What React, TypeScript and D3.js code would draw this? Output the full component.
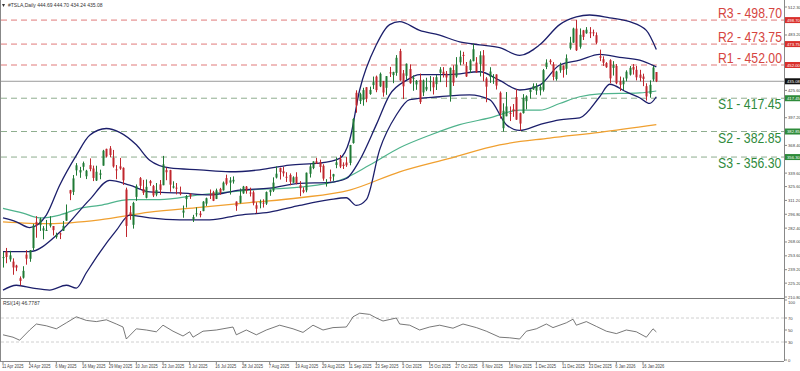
import React from "react";
import * as d3 from "d3";

// trading calendar (US market holidays removed)
const HOLIDAYS = ["2025-04-18", "2025-05-26", "2025-06-19", "2025-07-04", "2025-09-01", "2025-11-27", "2025-12-25", "2026-01-01", "2026-01-19"];

// open, high, low, close
const candles: [number, number, number, number][] = [
  [251.8, 257.7, 241.4, 252.3], [258.4, 261.8, 245.9, 252.4], [249.9, 258.8, 247.5, 254.1], [247.6, 251.0, 233.9, 241.5],
  [243.5, 244.3, 237.7, 241.4], [230.3, 232.2, 222.8, 227.5], [230.9, 242.8, 229.9, 238.0], [254.9, 259.5, 244.4, 250.7],
  [250.5, 259.5, 247.4, 259.5], [261.7, 286.9, 259.6, 285.0], [288.9, 294.9, 272.4, 285.9], [285.5, 293.3, 279.5, 292.0],
  [279.9, 284.5, 270.8, 282.2], [280.0, 290.9, 279.8, 280.5], [284.9, 294.8, 283.1, 287.2], [284.6, 284.6, 274.8, 280.3],
  [273.1, 277.7, 271.4, 275.4], [276.9, 277.9, 271.0, 276.2], [279.6, 289.8, 279.4, 284.8], [290.2, 307.0, 290.0, 298.3],
  [321.9, 322.2, 311.5, 318.4], [320.0, 337.6, 316.8, 334.1], [342.5, 350.0, 337.0, 347.7], [340.3, 346.1, 334.7, 342.8],
  [346.2, 351.6, 342.3, 350.0], [336.3, 343.0, 333.4, 342.1], [347.9, 354.9, 341.5, 343.8], [344.4, 347.4, 331.3, 334.6],
  [331.9, 347.3, 331.4, 341.0], [337.9, 343.2, 333.2, 339.3], [347.4, 363.8, 347.3, 362.9], [364.8, 365.0, 355.9, 356.9],
  [365.3, 367.7, 356.0, 358.4], [355.5, 363.7, 345.3, 346.5], [343.5, 348.0, 333.3, 342.7], [346.6, 355.4, 343.0, 344.3],
  [345.1, 345.6, 327.3, 332.1], [322.5, 324.5, 273.2, 284.7], [298.8, 305.5, 291.1, 295.1], [285.9, 309.8, 281.9, 308.6],
  [314.9, 327.8, 310.7, 326.1], [334.4, 335.5, 322.5, 326.4], [323.1, 332.6, 316.9, 319.1], [314.0, 333.0, 313.3, 325.3],
  [331.3, 332.5, 326.4, 329.1], [326.1, 327.3, 314.7, 316.4], [317.3, 329.3, 315.5, 322.1], [327.9, 332.4, 317.1, 322.2],
  [327.0, 357.5, 327.0, 348.7], [342.7, 345.4, 332.2, 340.5], [342.7, 343.0, 320.2, 327.6], [324.6, 331.1, 323.6, 325.8],
  [324.5, 329.3, 317.5, 323.6], [319.9, 325.6, 316.6, 317.7], [298.5, 305.9, 293.2, 300.7], [312.6, 316.8, 303.8, 315.7],
  [318.0, 318.5, 312.8, 315.4], [291.4, 296.2, 288.8, 293.9], [297.0, 304.0, 294.4, 297.8], [297.6, 300.2, 293.6, 295.9],
  [300.1, 310.5, 300.0, 309.9], [307.9, 314.1, 305.5, 313.5], [317.7, 322.6, 312.7, 316.9], [319.7, 321.2, 310.5, 310.8],
  [312.8, 323.5, 312.6, 321.7], [323.2, 324.3, 317.1, 319.4], [321.7, 330.9, 321.4, 329.7], [334.4, 338.0, 326.9, 328.5],
  [329.7, 335.4, 317.3, 332.1], [330.9, 336.2, 328.7, 332.6], [310.0, 310.2, 300.4, 305.3], [308.7, 323.6, 308.0, 316.1],
  [318.5, 326.3, 318.1, 325.6], [325.6, 326.2, 318.2, 321.2], [319.4, 324.5, 315.3, 319.0], [319.6, 321.4, 306.1, 308.3],
  [306.2, 309.3, 297.8, 302.6], [309.1, 312.1, 303.0, 309.3], [308.9, 312.4, 303.8, 308.7], [307.9, 320.5, 306.5, 319.9],
  [319.8, 322.5, 316.0, 322.3], [321.4, 335.2, 320.0, 329.7], [335.0, 346.6, 334.0, 339.0], [345.0, 345.3, 332.9, 340.8],
  [341.5, 346.1, 336.0, 339.4], [335.8, 340.5, 330.4, 335.6], [337.7, 339.3, 327.0, 330.6], [329.6, 336.3, 329.6, 335.2],
  [335.8, 340.5, 327.9, 329.3], [327.0, 331.3, 315.6, 323.9], [322.1, 324.9, 318.7, 320.1], [321.7, 340.2, 319.7, 340.0],
  [338.9, 349.5, 335.0, 346.6], [344.9, 351.9, 343.7, 351.7], [351.9, 355.4, 349.2, 349.6], [350.9, 353.6, 340.3, 346.0],
  [347.2, 348.8, 331.7, 333.9], [328.2, 333.3, 325.6, 329.4], [335.2, 343.3, 330.9, 334.1], [336.1, 338.9, 331.5, 338.5],
  [348.0, 355.9, 344.7, 350.8], [354.6, 358.4, 344.8, 346.4], [348.4, 350.8, 343.9, 347.0], [350.6, 356.3, 346.1, 347.8],
  [350.2, 369.0, 347.7, 368.8], [370.9, 396.7, 370.2, 395.9], [423.1, 425.7, 402.4, 410.0], [414.5, 423.2, 411.4, 421.6],
  [415.8, 428.3, 409.7, 425.9], [428.9, 428.9, 413.3, 416.9], [421.8, 429.5, 421.0, 426.1], [431.1, 440.0, 427.0, 434.2],
  [439.9, 441.0, 423.7, 425.9], [429.8, 444.2, 429.0, 442.8], [435.2, 435.4, 419.1, 423.4], [428.3, 440.5, 421.0, 440.4],
  [444.4, 450.0, 439.5, 443.2], [441.5, 445.0, 433.1, 444.7], [443.8, 462.3, 440.8, 459.5], [466.5, 468.8, 435.6, 436.0],
  [443.3, 446.8, 416.6, 429.8], [440.8, 453.6, 436.7, 453.3], [447.8, 452.7, 432.5, 433.1], [437.6, 441.3, 425.2, 438.7],
  [431.8, 436.4, 426.2, 435.5], [436.5, 443.1, 411.5, 413.5], [423.5, 436.9, 419.7, 435.9], [426.5, 438.7, 424.8, 429.2],
  [434.7, 440.5, 424.7, 435.2], [434.7, 439.4, 421.3, 428.8], [432.1, 441.6, 426.0, 439.3], [443.9, 449.8, 434.2, 447.4],
  [445.0, 449.8, 439.0, 442.6], [443.0, 445.7, 429.0, 439.0], [420.0, 449.4, 413.9, 449.0], [446.8, 451.7, 430.2, 433.7],
  [440.0, 460.2, 438.7, 452.4], [454.8, 467.0, 451.6, 460.6], [462.5, 465.7, 452.7, 461.5], [451.1, 455.1, 439.6, 440.1],
  [446.8, 458.0, 443.7, 456.6], [456.0, 474.1, 455.8, 468.4], [454.5, 460.2, 443.9, 444.3], [452.9, 466.3, 440.1, 462.1],
  [462.0, 467.5, 435.1, 445.9], [437.9, 439.4, 413.3, 429.5], [439.6, 449.7, 433.4, 445.2], [439.4, 442.5, 432.4, 439.6],
  [442.2, 442.3, 426.5, 430.6], [423.1, 424.5, 396.3, 402.0], [386.3, 412.2, 382.8, 404.4], [398.7, 423.9, 398.7, 408.9],
  [402.2, 408.9, 393.7, 401.3], [406.0, 411.4, 398.1, 404.0], [418.6, 426.9, 394.9, 395.2], [402.0, 402.6, 383.8, 391.1],
  [402.0, 421.7, 401.5, 417.8], [414.4, 420.5, 405.9, 419.4], [423.9, 426.9, 416.9, 426.6], [426.6, 432.9, 426.2, 430.2],
  [425.3, 433.0, 421.0, 430.1], [425.7, 431.9, 420.4, 429.2], [426.2, 447.9, 424.4, 446.7], [449.9, 457.9, 447.7, 454.5],
  [456.6, 458.1, 452.6, 455.0], [452.6, 455.0, 436.0, 439.6], [437.4, 446.0, 435.7, 445.2], [446.4, 454.4, 443.9, 451.5],
  [451.0, 451.6, 438.9, 446.9], [448.1, 463.0, 441.8, 459.0], [469.4, 481.3, 467.9, 475.3], [475.3, 490.8, 475.0, 489.9],
  [489.8, 498.8, 466.6, 467.3], [471.0, 490.0, 469.0, 483.4], [488.0, 488.5, 478.0, 481.2], [485.0, 491.4, 484.5, 488.7],
  [486.0, 491.4, 480.0, 485.6], [486.0, 488.8, 482.0, 485.4], [483.0, 485.9, 473.7, 475.2], [461.0, 468.0, 456.0, 459.6],
  [458.0, 461.0, 451.0, 454.4], [454.0, 455.0, 449.0, 449.7], [457.0, 458.0, 433.0, 438.1], [449.0, 456.0, 441.0, 451.7],
  [451.0, 453.0, 432.0, 433.0], [435.0, 440.0, 425.0, 431.4], [432.0, 439.0, 426.0, 435.8], [438.0, 446.5, 435.0, 445.0],
  [442.0, 451.0, 441.0, 449.0], [450.0, 453.0, 442.0, 447.2], [447.0, 451.0, 436.0, 439.2], [442.0, 447.0, 435.0, 438.6],
  [440.0, 443.0, 430.0, 437.5], [430.0, 433.0, 415.0, 419.3], [422.0, 436.0, 418.0, 431.4], [437.0, 451.0, 435.0, 449.4],
  [444.69, 444.7, 434.24, 435.08],
];

// indicator readings: [bar index, value]
const bbUpper: [number, number][] = [
  [0, 293], [4, 289], [8, 283], [13, 296], [17, 327], [22, 358], [26, 379], [31, 386], [35, 382], [40, 369], [44, 353],
  [50, 345], [59, 343], [68, 341], [77, 343], [86, 348], [95, 350], [101, 355], [104, 374], [107, 426], [112, 473],
  [116, 494], [119, 497], [125, 488], [131, 483], [137, 476], [143, 473], [149, 470], [155, 462], [161, 473], [167, 494],
  [172, 502], [176, 504], [182, 501], [188, 497], [193, 488], [196, 468],
];
const bbMiddle: [number, number][] = [
  [0, 258], [8, 258], [17, 278], [26, 312], [32, 332], [38, 327], [44, 320], [53, 319], [62, 317], [71, 322], [80, 324],
  [89, 329], [98, 330], [103, 334], [107, 353], [112, 390], [116, 421], [121, 436], [125, 442], [134, 442], [143, 445],
  [149, 436], [155, 426], [161, 431], [167, 452], [173, 457], [179, 463], [185, 460], [191, 457], [196, 450],
];
const bbLower: [number, number][] = [
  [0, 218], [4, 223], [9, 220], [14, 218], [19, 223], [22, 220], [25, 236], [29, 257], [34, 280], [38, 296], [44, 293],
  [53, 291], [62, 291], [71, 296], [80, 299], [89, 306], [98, 312], [103, 314], [106, 306], [109, 312], [113, 364],
  [118, 400], [122, 416], [131, 419], [140, 421], [146, 416], [151, 390], [155, 384], [161, 390], [167, 395], [173, 397],
  [179, 419], [182, 432], [187, 424], [191, 418], [194, 412], [196, 419],
];
const sma100: [number, number][] = [
  [0, 303], [6, 298], [11, 293], [17, 296], [23, 303], [29, 306], [38, 312], [47, 312], [59, 317], [74, 322], [89, 325],
  [101, 332], [110, 348], [119, 366], [128, 379], [137, 390], [146, 397], [155, 405], [161, 405], [167, 412], [173, 419],
  [179, 422], [191, 423], [196, 425],
];
const sma200: [number, number][] = [
  [0, 289], [14, 287], [29, 291], [44, 299], [59, 304], [74, 309], [89, 314], [104, 322], [119, 341], [134, 355],
  [149, 369], [164, 376], [179, 382], [196, 390],
];
const rsi14: [number, number][] = [
  [0, 42], [3, 38], [5, 33], [8, 50], [10, 60], [13, 57], [16, 52], [19, 62], [22, 72], [25, 66], [28, 64], [31, 67],
  [34, 60], [36, 55], [37, 35], [40, 52], [43, 50], [46, 47], [48, 58], [51, 48], [54, 40], [56, 47], [57, 38], [60, 48],
  [64, 50], [69, 55], [70, 42], [73, 50], [76, 42], [79, 50], [83, 58], [87, 52], [90, 46], [93, 58], [96, 50], [99, 54],
  [103, 55], [104, 63], [105, 72], [107, 78], [110, 76], [112, 70], [114, 65], [118, 70], [119, 60], [122, 58],
  [125, 50], [128, 55], [131, 58], [135, 53], [138, 60], [142, 54], [145, 48], [149, 38], [152, 37], [155, 35],
  [157, 48], [160, 52], [163, 60], [165, 54], [169, 62], [171, 68], [172, 58], [175, 64], [178, 56], [181, 48],
  [184, 44], [187, 50], [190, 47], [193, 38], [195, 52], [196, 46.78],
];

const resistances: [string, number][] = [["R3", 498.7], ["R2", 473.75], ["R1", 452.0]];
const supports: [string, number][] = [["S1", 417.45], ["S2", 382.85], ["S3", 356.3]];
const lastPrice = 435.08;

const priceTicks = [512.3, 483.2, 468.8, 440.0, 425.6, 411.8, 397.2, 368.4, 339.6, 325.6, 311.2, 296.8, 282.4, 268.0, 253.6, 239.2, 225.2, 210.8];
const rsiTicks = [100, 70, 50, 30, 0];
const dateLabels = [
  "11 Apr 2025", "24 Apr 2025", "6 May 2025", "16 May 2025", "29 May 2025", "10 Jun 2025", "23 Jun 2025", "3 Jul 2025",
  "16 Jul 2025", "28 Jul 2025", "7 Aug 2025", "19 Aug 2025", "29 Aug 2025", "11 Sep 2025", "23 Sep 2025", "3 Oct 2025",
  "15 Oct 2025", "27 Oct 2025", "6 Nov 2025", "18 Nov 2025", "1 Dec 2025", "11 Dec 2025", "23 Dec 2025", "6 Jan 2026",
  "16 Jan 2026",
];

const UP = "#1f7a35";
const DOWN = "#c0262d";
const FONT = "Liberation Sans, Arial, sans-serif";

export default function App() {
  const iso = d3.timeFormat("%Y-%m-%d");
  const lbl = d3.timeFormat("%-d %b %Y");
  const days = d3
    .timeDay.range(new Date(2025, 3, 11), new Date(2026, 0, 24))
    .filter(d => d.getDay() !== 0 && d.getDay() !== 6 && !HOLIDAYS.includes(iso(d)));

  const axisX = 784;
  const x = d3.scaleLinear().domain([0, 234.3]).range([3, axisX]);
  const y = d3.scaleLinear().domain([210.8, 512.3]).range([297, 7]);
  const yr = d3.scaleLinear().domain([0, 100]).range([360, 300]);

  const line = d3
    .line<[number, number]>()
    .x(d => x(d[0]))
    .y(d => y(d[1]))
    .curve(d3.curveMonotoneX);
  const rsiLine = d3
    .line<[number, number]>()
    .x(d => x(d[0]))
    .y(d => yr(d[1]));

  // price ticks hidden behind the coloured value boxes
  const boxed = [...resistances.map(r => r[1]), ...supports.map(s => s[1]), lastPrice];
  const shownTicks = priceTicks.filter(t => boxed.every(b => Math.abs(y(t) - y(b)) > 6.5));

  const levelLabel = (n: string, v: number, dy: number, fill: string) => (
    <g key={n} transform={`translate(718,${y(v) + dy}) scale(0.875,1)`}>
      <text x={0} y={0} fontSize={14} fill={fill}>{`${n} - ${v.toFixed(2)}`}</text>
    </g>
  );

  return (
    <div style={{ position: "absolute", left: 0, top: 0 }}>
      <svg width={800} height={371} style={{ display: "block", background: "#fff" }} fontFamily={FONT}>
        {/* frame */}
        <line x1={0.5} x2={0.5} y1={0} y2={361} stroke="#888" />
        <line x1={axisX + 0.5} x2={axisX + 0.5} y1={0} y2={361} stroke="#888" />
        <line x1={0} x2={axisX} y1={298.5} y2={298.5} stroke="#777" />
        <line x1={0} x2={axisX} y1={361.5} y2={361.5} stroke="#888" />

        {/* header */}
        <path d="M2,4 L5,4 L3.5,7 Z" fill="#333" />
        <text x={8} y={7} fontSize={5} fill="#333">#TSLA,Daily  444.69 444.70 434.24 435.08</text>

        {/* level lines */}
        {resistances.map(([n, v]) => (
          <line key={n} x1={1} x2={axisX} y1={y(v)} y2={y(v)} stroke="#e07a7a" strokeDasharray="6,4" strokeWidth={1} />
        ))}
        {supports.map(([n, v]) => (
          <line key={n} x1={1} x2={axisX} y1={y(v)} y2={y(v)} stroke="#8fae8f" strokeDasharray="6,4" strokeWidth={1} />
        ))}
        <line x1={1} x2={axisX} y1={y(lastPrice)} y2={y(lastPrice)} stroke="#9a9a9a" strokeWidth={1} />

        {/* moving averages and bands */}
        <path d={line(sma200) || ""} fill="none" stroke="#f0a030" strokeWidth={1.3} />
        <path d={line(sma100) || ""} fill="none" stroke="#4fb38c" strokeWidth={1.2} />
        <path d={line(bbUpper) || ""} fill="none" stroke="#1c1f6b" strokeWidth={1.3} />
        <path d={line(bbMiddle) || ""} fill="none" stroke="#1c1f6b" strokeWidth={1.3} />
        <path d={line(bbLower) || ""} fill="none" stroke="#1c1f6b" strokeWidth={1.3} />

        {/* candles */}
        {candles.map(([o, h, l, c], i) => {
          const cx = Math.round(x(i)) + 0.5;
          const col = c >= o ? UP : DOWN;
          const top = y(Math.max(o, c));
          const hgt = Math.max(1, y(Math.min(o, c)) - top);
          return (
            <g key={i}>
              <line x1={cx} x2={cx} y1={y(h)} y2={y(l)} stroke={col} strokeWidth={1} />
              <rect x={cx - 1} y={top} width={2} height={hgt} fill={col} />
            </g>
          );
        })}

        {/* level labels */}
        {resistances.map(([n, v]) => levelLabel(n, v, -2, "#d64541"))}
        {supports.map(([n, v]) => levelLabel(n, v, 11, "#2f8a3c"))}

        {/* price axis */}
        {shownTicks.map(t => (
          <g key={t}>
            <line x1={axisX} x2={axisX + 3} y1={y(t)} y2={y(t)} stroke="#888" />
            <text x={axisX + 4} y={y(t) + 1.5} fontSize={4.2} fill="#444">{t.toFixed(2)}</text>
          </g>
        ))}
        {resistances.map(([n, v]) => (
          <g key={n}>
            <rect x={axisX + 1} y={y(v) - 3} width={15} height={6} fill="#d9302c" />
            <text x={axisX + 3} y={y(v) + 1.5} fontSize={4.2} fill="#fff">{v.toFixed(2)}</text>
          </g>
        ))}
        {supports.map(([n, v]) => (
          <g key={n}>
            <rect x={axisX + 1} y={y(v) - 3} width={15} height={6} fill="#2e8b3a" />
            <text x={axisX + 3} y={y(v) + 1.5} fontSize={4.2} fill="#fff">{v.toFixed(2)}</text>
          </g>
        ))}
        <rect x={axisX + 1} y={y(lastPrice) - 3} width={15} height={6} fill="#111" />
        <text x={axisX + 3} y={y(lastPrice) + 1.5} fontSize={4.2} fill="#fff">{lastPrice.toFixed(2)}</text>

        {/* RSI panel */}
        <text x={3} y={305} fontSize={5} fill="#333">RSI(14) 46.7787</text>
        {[70, 30].map(v => (
          <line key={v} x1={1} x2={axisX} y1={yr(v)} y2={yr(v)} stroke="#d0d0d0" strokeDasharray="3,2" />
        ))}
        <path d={rsiLine(rsi14) || ""} fill="none" stroke="#555" strokeWidth={0.8} />
        {rsiTicks.map(t => (
          <g key={t}>
            <line x1={axisX} x2={axisX + 3} y1={yr(t)} y2={yr(t)} stroke="#888" />
            <text x={axisX + 4} y={yr(t) + (t === 100 ? 3.5 : 1.5)} fontSize={4.2} fill="#444">{t}</text>
          </g>
        ))}

        {/* date axis */}
        {dateLabels.map(s => {
          const i = days.findIndex(d => lbl(d) === s);
          if (i < 0) return null;
          return (
            <g key={s}>
              <line x1={x(i)} x2={x(i)} y1={361} y2={364} stroke="#888" />
              <g transform={`translate(${x(i) - 1},368) scale(0.85,1)`}>
                <text x={0} y={0} fontSize={4.8} fill="#444">{s}</text>
              </g>
            </g>
          );
        })}
      </svg>
    </div>
  );
}
